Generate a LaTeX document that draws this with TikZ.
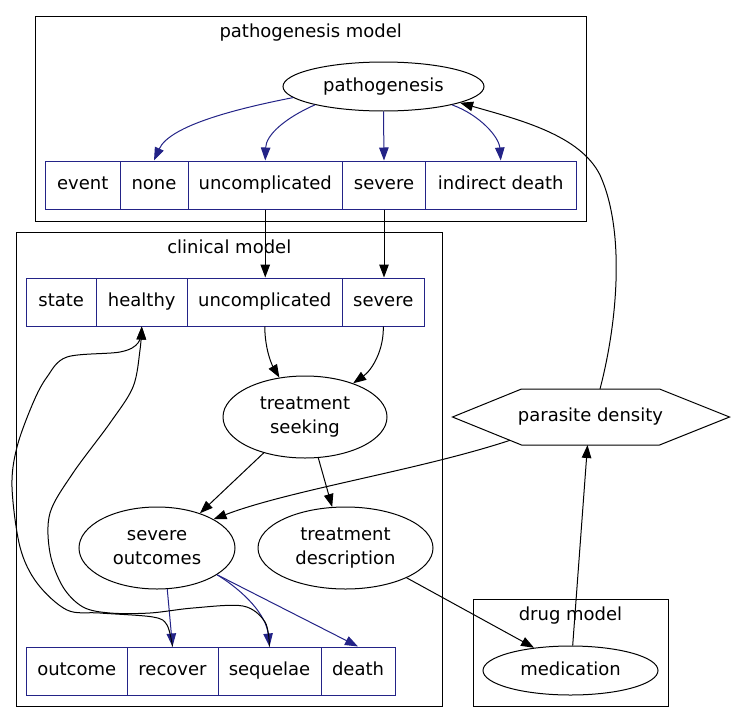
\documentclass[tikz,border=0pt]{standalone}
\usepackage{fontspec}
\setmainfont{DejaVu Sans}
\usetikzlibrary{shapes.geometric,arrows.meta,calc}
\definecolor{gvblue}{RGB}{35,35,135}
\begin{document}
\begin{tikzpicture}[x=1pt,y=-1pt,
  every node/.style={font=\fontsize{18pt}{24pt}\selectfont},
  ell/.style={ellipse,draw,line width=1pt,inner sep=0pt,align=center},
  one/.style={text height=13pt,text depth=4pt},
  two/.style={text height=37pt,text depth=4pt},
  cell/.style={rectangle,draw=gvblue,line width=1pt,inner sep=0pt,minimum height=48pt,text height=13pt,text depth=4pt},
  clus/.style={draw,line width=1pt},
  kedge/.style={draw,line width=1pt,-{Triangle[length=13pt,width=9.5pt]}},
  bedge/.style={draw=gvblue,line width=1pt,-{Triangle[length=13pt,width=9.5pt]}},
  hexline/.style={draw,line width=1pt}
]
\useasboundingbox (0,0) rectangle (733,723);

% clusters
\draw[clus] (35,16) rectangle (586.5,221);
\draw[clus] (16,232) rectangle (442.5,706);
\draw[clus] (473,599) rectangle (668,706);
\node[anchor=base] (lpm) at (310.75,37) {pathogenesis model};
\node[anchor=base] (lcm) at (229.25,253) {clinical model};
\node[anchor=base] (ldm) at (570.5,620) {drug model};

% pathogenesis model
\node[ell,one,minimum width=201pt,minimum height=49pt] (path) at (383.5,86.5) {pathogenesis};
\node[cell,minimum width=74.5pt] (eev) at (82.75,185) {event};
\node[cell,minimum width=68pt] (none) at (154,185) {none};
\node[cell,minimum width=154.5pt] (eunc) at (265.25,185) {uncomplicated};
\node[cell,minimum width=83pt] (esev) at (384,185) {severe};
\node[cell,minimum width=150.5pt] (eid) at (500.75,185) {indirect death};

% clinical model
\node[cell,minimum width=69.5pt] (sst) at (61.25,302) {state};
\node[cell,minimum width=91.5pt] (hea) at (141.75,302) {healthy};
\node[cell,minimum width=154.5pt] (sunc) at (264.75,302) {uncomplicated};
\node[cell,minimum width=82.5pt] (ssev) at (383.25,302) {severe};
\node[ell,two,minimum width=164pt,minimum height=82pt] (ts) at (305,417) {treatment\\seeking};
\node[ell,two,minimum width=156pt,minimum height=82pt] (so) at (157,548) {severe\\outcomes};
\node[ell,two,minimum width=175pt,minimum height=82pt] (td) at (345.5,548) {treatment\\description};
\node[cell,minimum width=100.5pt] (out) at (76.75,671) {outcome};
\node[cell,minimum width=91pt] (rec) at (172.5,671) {recover};
\node[cell,minimum width=103pt] (seq) at (269.5,671) {sequelae};
\node[cell,minimum width=74pt] (dea) at (358,671) {death};

% drug model
\node[ell,one,minimum width=175pt,minimum height=49pt] (med) at (570.5,670.5) {medication};

% parasite density hexagon
\node[one,inner sep=0pt] (pd) at (590.5,417) {parasite density};
\coordinate (hx1) at ($(pd)+(-138,0)$);
\coordinate (hx2) at ($(pd)+(-69,-28)$);
\coordinate (hx3) at ($(pd)+(69,-28)$);
\coordinate (hx4) at ($(pd)+(139,0)$);
\coordinate (hx5) at ($(pd)+(69,28)$);
\coordinate (hx6) at ($(pd)+(-69,28)$);
\draw[hexline] (hx1) -- (hx2) -- (hx3) -- (hx4) -- (hx5) -- (hx6) -- cycle;
\coordinate (pdT) at ($(pd)+(9.5,-28)$);
\coordinate (pdB) at ($(pd)+(-3,28)$);
\coordinate (pdL) at ($(pd)+(-80.5,23.3)$);

% edges in pathogenesis model
\draw[bedge] (path.187) .. controls (240,108) and (170,125) .. (none.north);
\draw[bedge] (path.195) .. controls (285,118) and (266,135) .. (eunc.north);
\draw[bedge] (path.south) -- (esev.north);
\draw[bedge] (path.345) .. controls (480,115) and (499,137) .. (eid.north);

% pathogenesis -> clinical
\draw[kedge] (eunc.south) -- (eunc.south |- sunc.north);
\draw[kedge] (esev.south) -- (esev.south |- ssev.north);

% clinical
\draw[kedge] (sunc.south) .. controls (265,350) and (272,365) .. (ts.123);
\draw[kedge] (ssev.south) .. controls (384,350) and (372,370) .. (ts.35);
\draw[kedge] (ts.221) -- (so.39);
\draw[kedge] (ts.288) -- (td.108);
\draw[kedge] (pdL) .. controls (420,470) and (290,490) .. (so.27);
\draw[bedge] (so.284) -- (rec.north);
\draw[bedge] (so.336) .. controls (245,592) and (266,615) .. (seq.north);
\draw[bedge] (so.336) -- (dea.north);

% back to healthy
\draw[kedge] plot[smooth,tension=0.55] coordinates {(rec.north) (167,625) (153,617) (100,613) (67,610) (37,583) (20,547) (12,487) (17,447) (33,403) (47,377) (67,357) (120,352) (138,343) (hea.south)};
\draw[kedge] plot[smooth,tension=0.55] coordinates {(seq.north) (265,622) (243,606) (193,608) (150,613) (110,613) (83,607) (63,587) (50,553) (50,513) (73,473) (110,423) (133,387) (140,350) (hea.south)};

% drug
\draw[kedge] (td.334) -- (med.148);
\draw[kedge] (med.85) -- (pdB);
\draw[kedge] (pdT) .. controls (618,320) and (625,230) .. (600,175) .. controls (580,135) and (520,120) .. (path.348);
\end{tikzpicture}
\end{document}
